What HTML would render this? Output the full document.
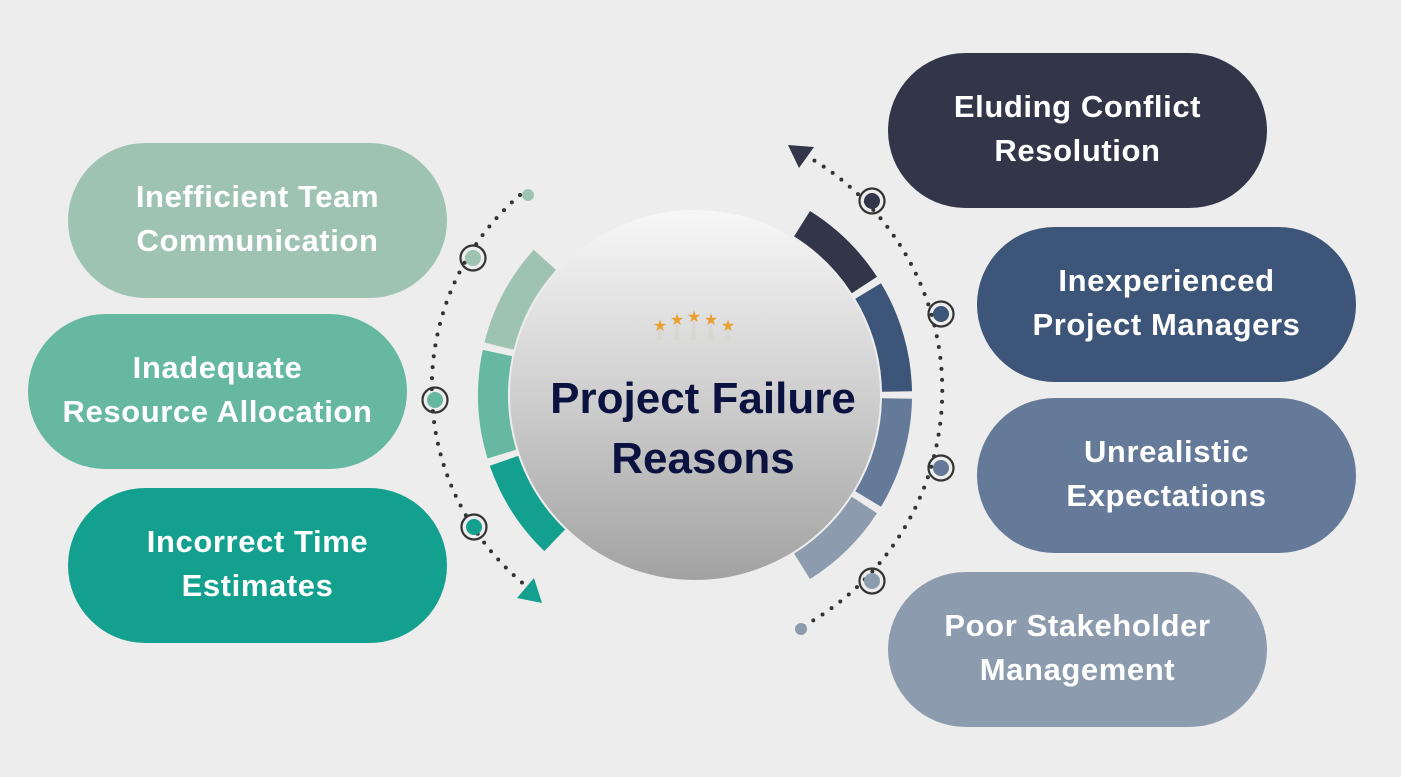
<!DOCTYPE html>
<html><head><meta charset="utf-8"><style>
html,body{margin:0;padding:0;background:#ededed;}
body{width:1401px;height:777px;overflow:hidden;position:relative;font-family:"Liberation Sans",sans-serif;}
.pill{position:absolute;width:379px;height:155px;border-radius:78px;color:#fff;font-weight:bold;font-size:31px;line-height:44px;display:flex;align-items:center;justify-content:center;text-align:center;letter-spacing:0.6px;padding-bottom:4px;box-sizing:border-box;}
</style></head><body>
<svg width="1401" height="777" style="position:absolute;left:0;top:0">
<defs>
<linearGradient id="g" x1="0" y1="0" x2="0" y2="1">
<stop offset="0" stop-color="#f7f7f7"/><stop offset="0.5" stop-color="#cfcfcf"/><stop offset="1" stop-color="#a2a2a2"/>
</linearGradient>
</defs>
<g fill="none" stroke="#333" stroke-width="4" stroke-linecap="round" stroke-dasharray="0 11">
<path d="M520,195 A255,255 0 0 0 525,585"/>
<path d="M805,155 A270,270 0 0 1 800,628"/>
</g>
<circle cx="528" cy="195" r="6" fill="#9fc3b3"/>
<circle cx="801" cy="629" r="6" fill="#8c9cae"/>
<polygon points="534,578 517,598 542,603" fill="#14a08f"/>
<polygon points="788,145 814,147 799,168" fill="#333549"/>
<g transform="translate(695,395)">
<path fill="#9fc3b3" d="M-161.3,-145.2 A217,217 0 0 0 -210.6,-52.5 L-181.4,-45.2 A187,187 0 0 1 -139,-125.1Z"/>
<path fill="#66b8a0" d="M-212.2,-45.1 A217,217 0 0 0 -207.5,63.5 L-178.8,54.7 A187,187 0 0 1 -182.9,-38.9Z"/>
<path fill="#14a08f" d="M-205.2,70.7 A217,217 0 0 0 -150.7,156.1 L-129.9,134.5 A187,187 0 0 1 -176.8,60.9Z"/>
<path fill="#333549" d="M115,-184 A217,217 0 0 1 182,-118.2 L156.8,-101.8 A187,187 0 0 0 99.1,-158.6Z"/>
<path fill="#3d5578" d="M186,-111.8 A217,217 0 0 1 217,-3.8 L187,-3.3 A187,187 0 0 0 160.3,-96.3Z"/>
<path fill="#647a98" d="M217,3.8 A217,217 0 0 1 186,111.8 L160.3,96.3 A187,187 0 0 0 187,3.3Z"/>
<path fill="#8c9cae" d="M182,118.2 A217,217 0 0 1 115,184 L99.1,158.6 A187,187 0 0 0 156.8,101.8Z"/>
</g>
<circle cx="695" cy="395" r="185" fill="url(#g)"/>
<g stroke="#333" stroke-width="2.2" fill="none">
<circle cx="473" cy="258" r="12.5"/><circle cx="435" cy="400" r="12.5"/><circle cx="474" cy="527" r="12.5"/>
<circle cx="872" cy="201" r="12.5"/><circle cx="941" cy="314" r="12.5"/><circle cx="941" cy="468" r="12.5"/><circle cx="872" cy="581" r="12.5"/>
</g>
<circle cx="473" cy="258" r="8" fill="#9fc3b3"/><circle cx="435" cy="400" r="8" fill="#66b8a0"/><circle cx="474" cy="527" r="8" fill="#14a08f"/>
<circle cx="872" cy="201" r="8" fill="#333549"/><circle cx="941" cy="314" r="8" fill="#3d5578"/><circle cx="941" cy="468" r="8" fill="#647a98"/><circle cx="872" cy="581" r="8" fill="#8c9cae"/>
<g fill="#d8d8d2">
<polygon points="656,340 660,326 663,340"/><polygon points="673,340 677,320 680,340"/><polygon points="690,340 694,317 697,340"/><polygon points="707,340 711,320 714,340"/><polygon points="724,340 728,326 731,340"/>
</g>
<g fill="#e8a030" font-size="16" font-family="DejaVu Sans" text-anchor="middle">
<text x="660" y="331">★</text><text x="677" y="325">★</text><text x="694" y="322">★</text><text x="711" y="325">★</text><text x="728" y="331">★</text>
</g>
<g fill="#0b1240" font-size="44" font-weight="bold" text-anchor="middle" font-family="Liberation Sans, sans-serif">
<text x="703" y="413">Project Failure</text>
<text x="703" y="473">Reasons</text>
</g>
</svg>
<div class="pill" style="left:68px;top:143px;background:#9fc3b3">Inefficient Team<br>Communication</div>
<div class="pill" style="left:28px;top:314px;background:#66b8a0">Inadequate<br>Resource Allocation</div>
<div class="pill" style="left:68px;top:488px;background:#14a08f">Incorrect Time<br>Estimates</div>
<div class="pill" style="left:888px;top:53px;background:#333549">Eluding Conflict<br>Resolution</div>
<div class="pill" style="left:977px;top:227px;background:#3d5578">Inexperienced<br>Project Managers</div>
<div class="pill" style="left:977px;top:398px;background:#647a98">Unrealistic<br>Expectations</div>
<div class="pill" style="left:888px;top:572px;background:#8c9cae">Poor Stakeholder<br>Management</div>
</body></html>
